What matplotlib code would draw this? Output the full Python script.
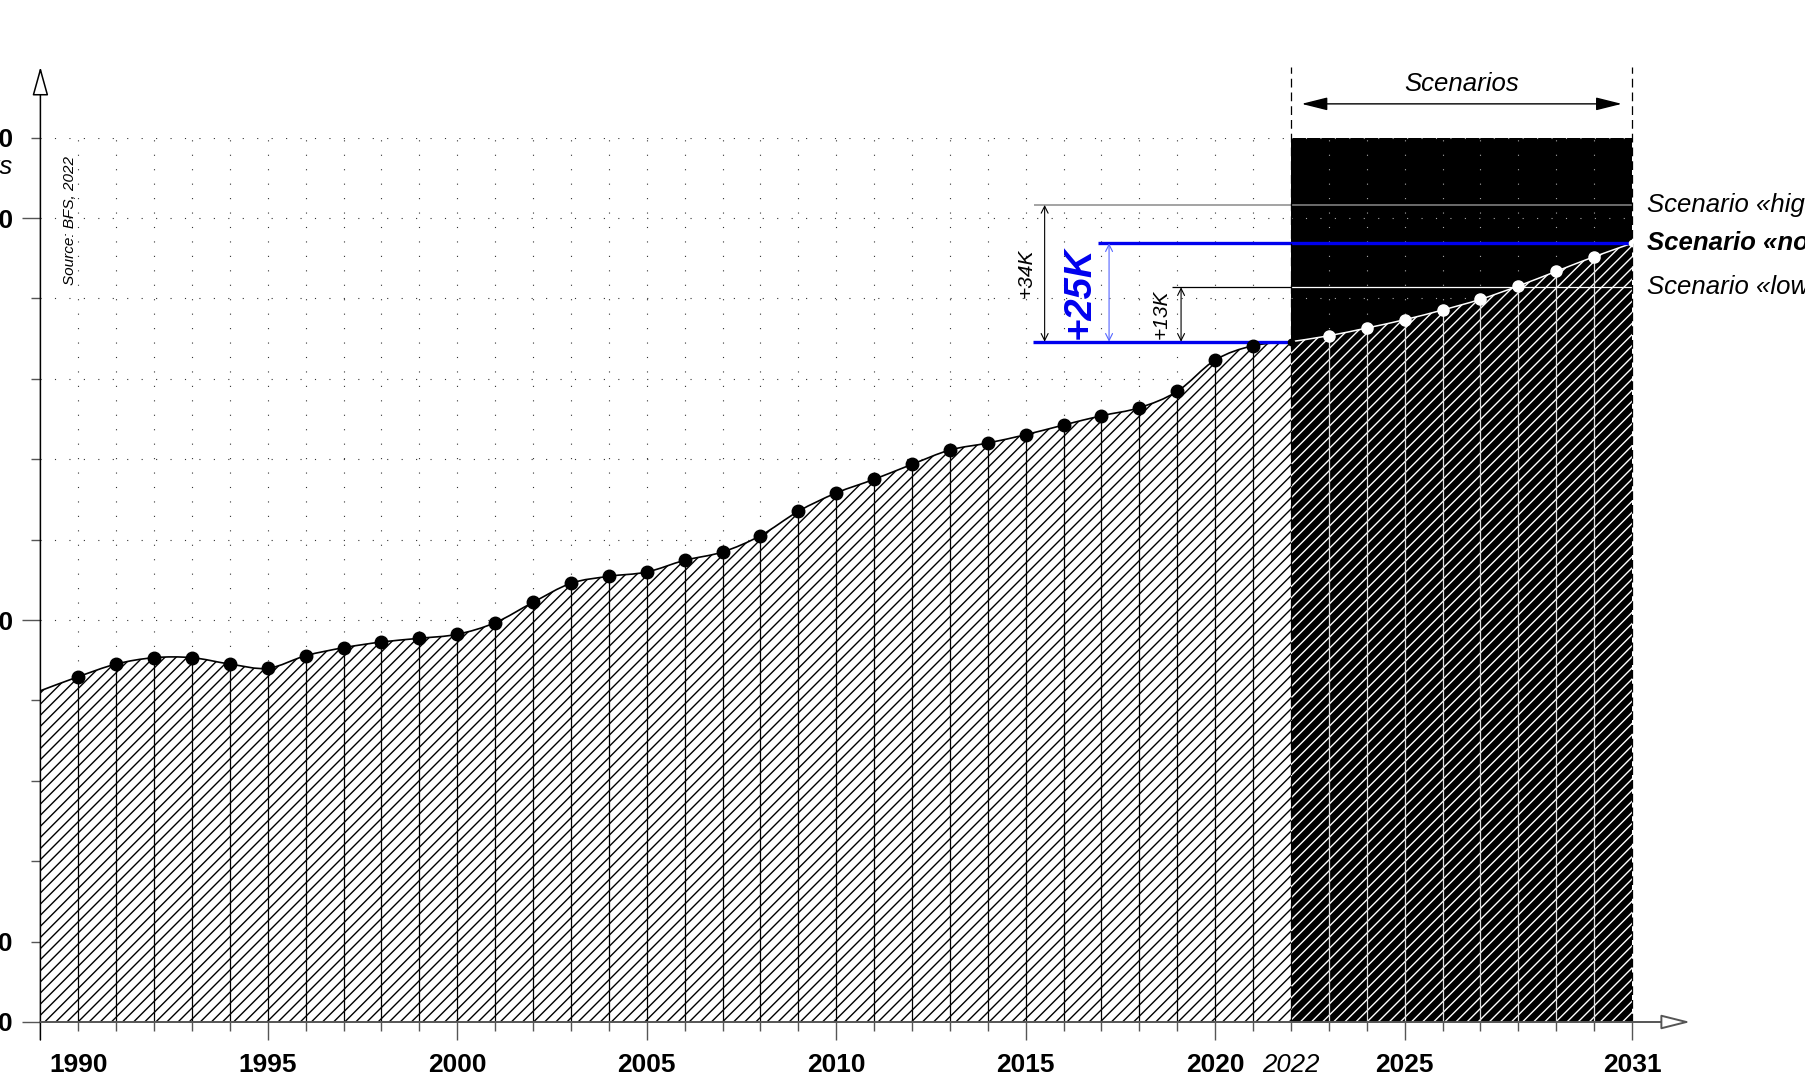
import numpy as np
import matplotlib
matplotlib.use('Agg')
import matplotlib.pyplot as plt
from matplotlib.path import Path
from matplotlib.patches import PathPatch, Rectangle

plt.rcParams['font.family'] = ['Liberation Sans', 'DejaVu Sans']
plt.rcParams['hatch.linewidth'] = 1.0

# Data
hist_years = list(range(1989, 2023))
hist_values = [82400, 85900, 89050, 90630, 90630, 89050, 87990, 91120, 93110, 94530,
               95450, 96450, 99330, 104400, 109130, 110870, 111940, 114850, 116920, 120980,
               127040, 131600, 135000, 138730, 142290, 144030, 146100, 148510, 150820, 152810,
               156890, 164680, 168240, 169230]
scen_years = list(range(2022, 2032))
scen_values = [169230, 170720, 172640, 174710, 177120, 179780, 183090, 186740, 190380, 193710]
high_2031 = 203240
normal_2031 = scen_values[-1]
low_2031 = 182770
base_2022 = hist_values[-1]

y_ticks = list(range(0, 220001, 20000))
y_major = [0, 100000, 200000]
y_labels = {0: '0', 20000: '20 000', 100000: '100 000', 200000: '200 000', 220000: '220 000'}
x_major = [1995, 2000, 2005, 2010, 2015, 2020, 2025, 2031]
x_labels_minor = {1990: '1990', 2022: '2022'}

BLUE = '#0000ee'
GRAY = '#555555'


def smooth_path(x_all, y_all):
    # Catmull-Rom segments turned into cubic Bezier pieces for the path
    xs = np.asarray(x_all, float)
    ys = np.asarray(y_all, float)
    n = len(xs)
    verts = [(xs[0], ys[0])]
    codes = [Path.MOVETO]
    for i in range(n - 1):
        x0, y0 = (xs[i - 1], ys[i - 1]) if i > 0 else (xs[i], ys[i])
        x3, y3 = (xs[i + 2], ys[i + 2]) if i + 2 < n else (xs[i + 1], ys[i + 1])
        c1 = (xs[i] + (xs[i + 1] - x0) / 6, ys[i] + (ys[i + 1] - y0) / 6)
        c2 = (xs[i + 1] - (x3 - xs[i]) / 6, ys[i + 1] - (y3 - ys[i]) / 6)
        verts += [c1, c2, (xs[i + 1], ys[i + 1])]
        codes += [Path.CURVE4] * 3
    return verts, codes


def area_path(x_all, y_all):
    verts, codes = smooth_path(x_all, y_all)
    verts += [(x_all[-1], 0), (x_all[0], 0), (x_all[0], y_all[0])]
    codes += [Path.LINETO, Path.LINETO, Path.CLOSEPOLY]
    return Path(verts, codes)


fig = plt.figure(figsize=(18.06, 10.81), dpi=100)
ax = fig.add_axes([0.02237, 0.05458, 0.8813, 0.8181])
ax.set_xlim(1989, 2031)
ax.set_ylim(0, 220000)
for s in ax.spines.values():
    s.set_visible(False)

# black scenario box
ax.add_patch(Rectangle((2022, 0), 2031 - 2022, 220000, facecolor='black', edgecolor='none', zorder=0.3))

# dotted grid
dots = (0, (1, 12))
ax.hlines(y_ticks[1:], 1989, 2022, colors='#333333', linestyles=dots, lw=0.8, zorder=0.6)
ax.hlines(y_ticks[1:], 2022, 2031, colors='#aaaaaa', linestyles=dots, lw=0.8, zorder=0.6)
ax.vlines(hist_years[1:-1], 0, 220000, colors='#333333', linestyles=dots, lw=0.8, zorder=0.6)
ax.vlines(scen_years[1:-1], 0, 220000, colors='#aaaaaa', linestyles=dots, lw=0.8, zorder=0.6)

# hatched areas
ax.add_patch(PathPatch(area_path(hist_years, hist_values), facecolor='white',
                       edgecolor='black', hatch='///', lw=0, zorder=2))
ax.add_patch(PathPatch(area_path(scen_years, scen_values), facecolor='black',
                       edgecolor='white', hatch='///', lw=0, zorder=2))

# curves
v, c = smooth_path(hist_years, hist_values)
ax.add_patch(PathPatch(Path(v, c), facecolor='none', edgecolor='black', lw=1.2, zorder=4))
v, c = smooth_path(scen_years, scen_values)
ax.add_patch(PathPatch(Path(v, c), facecolor='none', edgecolor='white', lw=1.1, zorder=4))

# year lines
ax.vlines(hist_years[1:-1], 0, hist_values[1:-1], colors='black', lw=0.9, zorder=3)
ax.vlines(scen_years[1:-1], 0, scen_values[1:-1], colors='#dddddd', lw=0.9, zorder=3)

# dots
ax.plot(hist_years[1:-1], hist_values[1:-1], 'o', ms=9, color='black', zorder=6)
ax.plot([2022], [base_2022], 'o', ms=4.5, color='black', zorder=6)
ax.plot(scen_years[1:-1], scen_values[1:-1], 'o', ms=8, color='white', zorder=6)
ax.plot([2031], [normal_2031], 'o', ms=4.5, color='white', zorder=6)

# scenario levels
ax.hlines(high_2031, 2015.22, 2031, colors='#8a8a8a', lw=1.1, zorder=5)
ax.hlines(normal_2031, 2016.9, 2031, colors=BLUE, lw=2.4, zorder=5)
ax.hlines(base_2022, 2015.2, 2022, colors=BLUE, lw=2.4, zorder=5)
ax.hlines(low_2031, 2018.85, 2022, colors='black', lw=0.9, zorder=5)
ax.hlines(low_2031, 2022, 2031, colors='white', lw=0.9, zorder=5)

# difference arrows
arr = '<->,head_length=0.5,head_width=0.25'
ax.annotate('', xy=(2015.5, high_2031), xytext=(2015.5, base_2022),
            arrowprops=dict(arrowstyle=arr, color='black', lw=0.8, shrinkA=0, shrinkB=0), zorder=5)
ax.annotate('', xy=(2017.2, normal_2031), xytext=(2017.2, base_2022),
            arrowprops=dict(arrowstyle=arr, color='#5566ff', lw=0.8, shrinkA=0, shrinkB=0), zorder=5)
ax.annotate('', xy=(2019.1, low_2031), xytext=(2019.1, base_2022),
            arrowprops=dict(arrowstyle=arr, color='black', lw=0.8, shrinkA=0, shrinkB=0), zorder=5)
ax.text(2015.0, (high_2031 + base_2022) / 2, '+34K', rotation=90, ha='center', va='center',
        style='italic', fontsize=15)
ax.text(2016.42, (normal_2031 + base_2022) / 2, '+25K', rotation=90, ha='center', va='center',
        style='italic', weight='bold', fontsize=27.5, color=BLUE)
ax.text(2018.58, (low_2031 + base_2022) / 2, '+13K', rotation=90, ha='center', va='center',
        style='italic', fontsize=15)

# scenario labels on the right
ax.text(2031.4, high_2031, 'Scenario «high»', ha='left', va='center', style='italic',
        fontsize=18.5, clip_on=False)
ax.text(2031.4, normal_2031, 'Scenario «normal»', ha='left', va='center', style='italic',
        weight='bold', fontsize=18.5, clip_on=False)
ax.text(2031.4, low_2031, 'Scenario «low»', ha='left', va='center', style='italic',
        fontsize=18.5, clip_on=False)

# scenarios bracket
ax.vlines([2022, 2031], 0, 237600, colors='black', linestyles=(0, (7, 4)), lw=0.9,
          zorder=5, clip_on=False)
ax.annotate('', xy=(2030.73, 228400), xytext=(2022.28, 228400), annotation_clip=False,
            arrowprops=dict(arrowstyle='<|-|>,head_length=1.6,head_width=0.4', color='black',
                            lw=1, shrinkA=0, shrinkB=0))
ax.text(2026.5, 233300, 'Scenarios', ha='center', va='center', style='italic', fontsize=18.5)

# axes with open arrow heads
ax.annotate('', xy=(1989, 237600), xytext=(1989, -4480), annotation_clip=False,
            arrowprops=dict(arrowstyle='-|>,head_length=1.8,head_width=0.5', fc='white',
                            ec='black', lw=1.1, shrinkA=0, shrinkB=0), zorder=7)
ax.annotate('', xy=(2032.54, 0), xytext=(1989, 0), annotation_clip=False,
            arrowprops=dict(arrowstyle='-|>,head_length=1.8,head_width=0.45', fc='white',
                            ec=GRAY, lw=1.4, shrinkA=0, shrinkB=0), zorder=7)

# source and unit
ax.text(1989.77, 199500, 'Source: BFS, 2022', rotation=90, ha='center', va='center',
        style='italic', fontsize=11)
ax.text(1988.28, 212690, 'Inhabitants', ha='right', va='center', style='italic',
        fontsize=18.5, clip_on=False)

# ticks
ax.set_xticks(x_major, [str(y) for y in x_major])
x_minor = [y for y in range(1990, 2031) if y not in x_major]
ax.set_xticks(x_minor, [x_labels_minor.get(y, '') for y in x_minor], minor=True)
ax.set_yticks(y_major, [y_labels.get(y, '') for y in y_major])
y_minor = [y for y in y_ticks if y not in y_major]
ax.set_yticks(y_minor, [y_labels.get(y, '') for y in y_minor], minor=True)

ax.tick_params(which='major', length=13, width=1, color=GRAY, labelsize=19)
ax.tick_params(which='minor', length=6.5, width=1, color=GRAY, labelsize=19)
ax.tick_params(axis='x', which='major', pad=9)
ax.tick_params(axis='x', which='minor', pad=15.5)
ax.tick_params(axis='y', which='major', pad=6.8)
ax.tick_params(axis='y', which='minor', pad=13.3)
for lab in ax.get_xticklabels() + ax.get_yticklabels() + \
        ax.get_xticklabels(minor=True) + ax.get_yticklabels(minor=True):
    lab.set_fontweight('bold')
for lab in ax.get_xticklabels(minor=True):
    if lab.get_text() == '2022':
        lab.set_fontsize(18.5)
        lab.set_fontweight('normal')
        lab.set_fontstyle('italic')

fig.savefig('out.png', dpi=100)
